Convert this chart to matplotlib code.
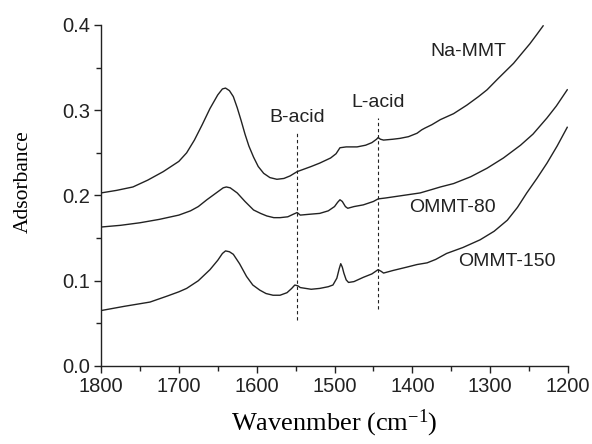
import matplotlib

matplotlib.use("Agg")
import matplotlib.pyplot as plt
from matplotlib.ticker import MultipleLocator

# --- data (wavenumber cm^-1, absorbance) ---
na_wn = [1800, 1780, 1759, 1740, 1720, 1700, 1690, 1680, 1670, 1660, 1650, 1644,
         1640, 1635, 1630, 1625, 1620, 1615, 1610, 1604, 1598, 1591, 1583, 1574,
         1565, 1557, 1548, 1530, 1519, 1505, 1498, 1493, 1485, 1471, 1460, 1452,
         1446, 1444, 1441, 1437, 1425, 1416, 1405, 1394, 1388, 1384, 1375, 1364,
         1347, 1330, 1315, 1304, 1290, 1280, 1270, 1260, 1249, 1240, 1232]
na_abs = [0.203, 0.206, 0.210, 0.218, 0.228, 0.240, 0.250, 0.265, 0.283, 0.302, 0.318, 0.325,
          0.326, 0.323, 0.316, 0.303, 0.288, 0.272, 0.258, 0.245, 0.234, 0.226, 0.221, 0.219,
          0.220, 0.223, 0.228, 0.234, 0.238, 0.244, 0.249, 0.256, 0.257, 0.257, 0.259, 0.262,
          0.266, 0.268, 0.266, 0.265, 0.266, 0.267, 0.269, 0.273, 0.277, 0.279, 0.283, 0.289,
          0.296, 0.306, 0.316, 0.324, 0.337, 0.346, 0.355, 0.366, 0.378, 0.389, 0.399]

o80_wn = [1800, 1775, 1750, 1725, 1700, 1685, 1675, 1664, 1652, 1643, 1639, 1634,
          1625, 1615, 1604, 1595, 1587, 1578, 1570, 1560, 1553, 1548, 1544, 1532,
          1519, 1508, 1500, 1496, 1493, 1490, 1486, 1483, 1475, 1463, 1450, 1444,
          1435, 1420, 1405, 1390, 1375, 1364, 1347, 1325, 1304, 1283, 1261, 1245,
          1227, 1215, 1201]
o80_abs = [0.163, 0.165, 0.168, 0.172, 0.177, 0.182, 0.187, 0.195, 0.203, 0.209, 0.210, 0.209,
           0.203, 0.193, 0.183, 0.179, 0.176, 0.174, 0.174, 0.175, 0.178, 0.180, 0.177, 0.178,
           0.179, 0.182, 0.187, 0.192, 0.195, 0.193, 0.187, 0.185, 0.187, 0.189, 0.193, 0.196,
           0.197, 0.199, 0.201, 0.203, 0.207, 0.210, 0.214, 0.222, 0.232, 0.244, 0.259, 0.272,
           0.291, 0.305, 0.324]

o150_wn = [1800, 1770, 1737, 1715, 1700, 1690, 1675, 1660, 1650, 1644, 1640, 1635,
           1630, 1622, 1613, 1605, 1596, 1588, 1579, 1570, 1561, 1555, 1551, 1547,
           1544, 1530, 1519, 1508, 1502, 1497, 1494, 1492, 1490, 1488, 1485, 1482,
           1475, 1463, 1452, 1444, 1440, 1437, 1425, 1407, 1394, 1381, 1370, 1356,
           1335, 1313, 1295, 1278, 1265, 1253, 1240, 1227, 1214, 1201]
o150_abs = [0.065, 0.070, 0.075, 0.082, 0.087, 0.091, 0.100, 0.113, 0.124, 0.132, 0.135, 0.134,
            0.131, 0.120, 0.105, 0.095, 0.089, 0.085, 0.083, 0.083, 0.086, 0.091, 0.095, 0.094,
            0.092, 0.090, 0.091, 0.093, 0.095, 0.103, 0.114, 0.120, 0.116, 0.109, 0.101, 0.098,
            0.099, 0.104, 0.108, 0.113, 0.111, 0.109, 0.112, 0.116, 0.119, 0.121, 0.125, 0.132,
            0.139, 0.148, 0.158, 0.171, 0.186, 0.203, 0.220, 0.238, 0.258, 0.280]

acid_wn = [1548, 1444]
acid_top = [0.274, 0.291]
acid_bottom = [0.054, 0.067]
acid_names = ["B-acid", "L-acid"]

curve_names = ["Na-MMT", "OMMT-80", "OMMT-150"]
name_wn = [1328, 1349, 1278]
name_abs = [0.369, 0.186, 0.122]

SANS = "Liberation Sans"
SERIF = "Liberation Serif"
INK = "#222222"

plt.rcParams["mathtext.fontset"] = "custom"
plt.rcParams["mathtext.rm"] = SERIF
plt.rcParams["mathtext.it"] = SERIF + ":italic"

fig = plt.figure(figsize=(5.92, 4.44), dpi=100)
ax = fig.add_axes([0.1706, 0.1757, 0.7889, 0.768])

for wn, ab in [(na_wn, na_abs), (o80_wn, o80_abs), (o150_wn, o150_abs)]:
    ax.plot(wn, ab, color=INK, lw=1.0)

for wn, top, bot, name in zip(acid_wn, acid_top, acid_bottom, acid_names):
    ax.plot([wn, wn], [bot, top], color=INK, lw=0.8, ls=(0, (3, 2.5)))
    ax.text(wn, top + 0.008, name, ha="center", va="bottom",
            fontsize=14, family=SANS, color=INK)

for name, wn, ab in zip(curve_names, name_wn, name_abs):
    ax.text(wn, ab, name, ha="center", va="center", fontsize=14, family=SANS, color=INK)

ax.set_xlim(1800, 1200)
ax.set_ylim(0.0, 0.4)
ax.xaxis.set_major_locator(MultipleLocator(100))
ax.xaxis.set_minor_locator(MultipleLocator(50))
ax.yaxis.set_major_locator(MultipleLocator(0.1))
ax.yaxis.set_minor_locator(MultipleLocator(0.05))
ax.yaxis.set_major_formatter(plt.FormatStrFormatter("%.1f"))

for side in ("top", "right"):
    ax.spines[side].set_visible(False)
for side in ("left", "bottom"):
    ax.spines[side].set_color(INK)
    ax.spines[side].set_linewidth(1.0)

ax.tick_params(which="major", direction="out", length=5, width=1.0, color=INK,
               labelsize=14.5, labelcolor=INK, pad=3)
ax.tick_params(which="minor", direction="out", length=3.5, width=1.0, color=INK)
for lab in ax.get_xticklabels() + ax.get_yticklabels():
    lab.set_family(SANS)

ax.set_xlabel("Wavenmber (cm$^{-1}$)", family=SERIF, fontsize=19, labelpad=8)
ax.set_ylabel("Adsorbance", family=SERIF, fontsize=15.5)
ax.yaxis.set_label_coords(-0.145, 0.54)

fig.savefig("out.png", dpi=100)
